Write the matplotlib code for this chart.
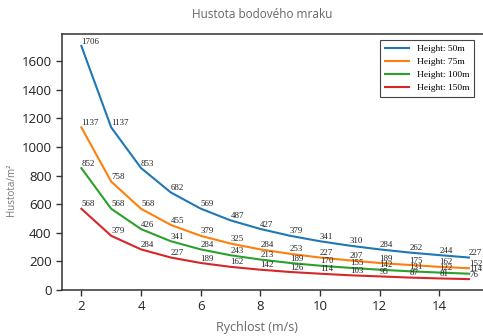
import matplotlib
matplotlib.use("Agg")
import matplotlib.pyplot as plt

speeds = [2, 3, 4, 5, 6, 7, 8, 9, 10, 11, 12, 13, 14, 15]
density_50m = [1706, 1137, 853, 682, 569, 487, 427, 379, 341, 310, 284, 262, 244, 227]
density_75m = [1137, 758, 568, 455, 379, 325, 284, 253, 227, 207, 189, 175, 162, 152]
density_100m = [852, 568, 426, 341, 284, 243, 213, 189, 170, 155, 142, 131, 122, 114]
density_150m = [568, 379, 284, 227, 189, 162, 142, 126, 114, 103, 95, 87, 81, 76]
series_labels = ["Height: 50m", "Height: 75m", "Height: 100m", "Height: 150m"]
series_colors = ["#1f77b4", "#ff7f0e", "#2ca02c", "#d62728"]
x_ticks = [2, 4, 6, 8, 10, 12, 14]
y_ticks = [0, 200, 400, 600, 800, 1000, 1200, 1400, 1600]

W, H = 483, 336
fig = plt.figure(figsize=(W / 100, H / 100), dpi=100)
ax = fig.add_axes([62 / W, (H - 290) / H, (483 - 62) / W, (290 - 34) / H])

serif = ["Liberation Serif", "DejaVu Serif"]
for vals, lab, col in zip([density_50m, density_75m, density_100m, density_150m],
                          series_labels, series_colors):
    ax.plot(speeds, vals, color=col, lw=1.5, label=lab)
    for x, v in zip(speeds, vals):
        ax.annotate(str(v), (x, v), xytext=(0, 0.3), textcoords="offset points",
                    ha="left", va="bottom", fontsize=6.4, color="#222222",
                    family=serif)

ax.set_xlim(1.35, 15.47)
ax.set_ylim(0, 1790)
ax.set_xticks(x_ticks)
ax.set_yticks(y_ticks)
ax.tick_params(axis="both", labelsize=9.5, length=4, width=1, colors="#333333",
               labelcolor="#222222")
for lbl in ax.get_xticklabels() + ax.get_yticklabels():
    lbl.set_family(["Open Sans", "DejaVu Sans"])
for s in ["left", "bottom", "top"]:
    ax.spines[s].set_color("#333333")
    ax.spines[s].set_linewidth(1.1)
ax.spines["right"].set_visible(False)

leg = ax.legend(loc="upper right", bbox_to_anchor=(0.99, 0.995),
                prop={"family": serif, "size": 6.8}, fancybox=False,
                edgecolor="#444444", framealpha=1, handlelength=2.6,
                borderpad=0.5, labelspacing=0.45)
leg.get_frame().set_linewidth(0.8)

fig.text(262 / W, 1 - 15 / H, "Hustota bodového mraku", ha="center", va="center",
         fontsize=8.5, color="#666666", family=["Open Sans", "DejaVu Sans"])
fig.text(257 / W, 1 - 327 / H, "Rychlost (m/s)", ha="center", va="center",
         fontsize=9, color="#666666", family=["Open Sans", "DejaVu Sans"])
fig.text(12 / W, 1 - 190 / H, "Hustota/m²", ha="center", va="center",
         rotation=90, fontsize=7, color="#777777",
         family=["Open Sans", "DejaVu Sans"])

fig.savefig("out.png", dpi=100)
